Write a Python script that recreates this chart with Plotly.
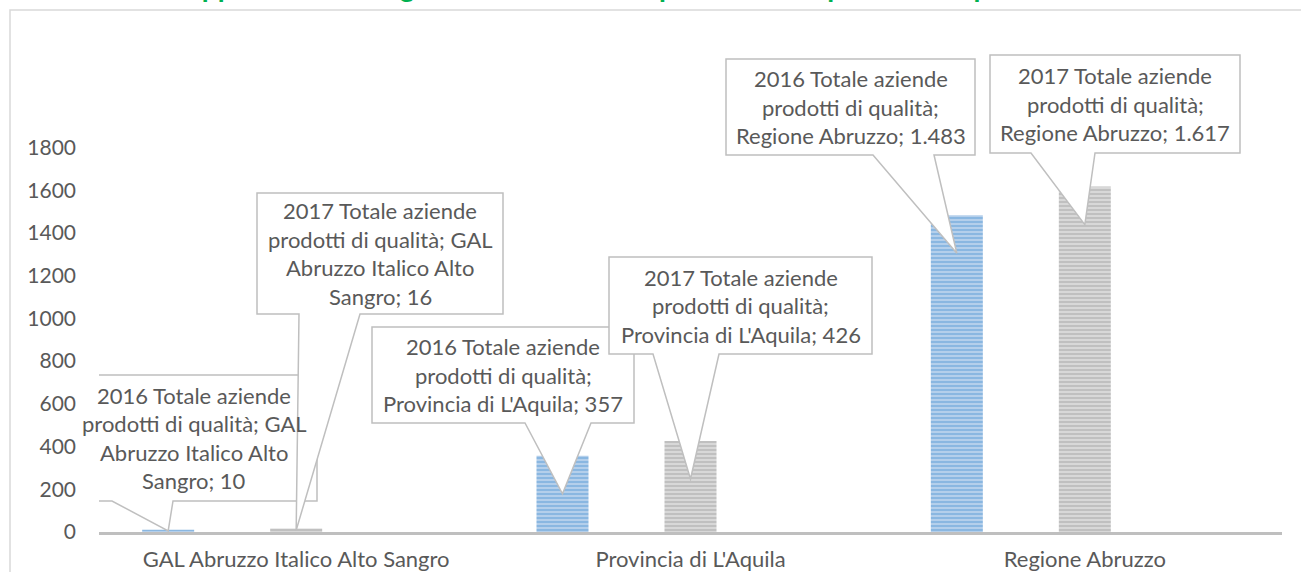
import textwrap
import plotly.graph_objects as go

categories = ["GAL Abruzzo Italico Alto Sangro", "Provincia di L'Aquila", "Regione Abruzzo"]
series_names = ["2016 Totale aziende prodotti di qualità", "2017 Totale aziende prodotti di qualità"]
values_2016 = [10, 357, 1483]
values_2017 = [16, 426, 1617]
y_ticks = [0, 200, 400, 600, 800, 1000, 1200, 1400, 1600, 1800]
title = "Tabella 1 – Rappresentazione grafica delle aziende produttrici di prodotti di qualità anni 2016/17"

W, H = 1302, 573
# plot area in page pixels: x 99..1282, y 20..532
L, R, T, B = 99, W - 1282, 20, H - 532
PLOT_W = W - L - R
PLOT_H = H - T - B
K = 384.5 / 1800  # px per unit
YMAX = PLOT_H / K
CAT_W = PLOT_W / 3

FONT = "Lato"
TXT = "#595959"
LINE = "#BFBFBF"


# helpers: page pixel -> data / paper coordinates
def px_x(px):
    return (px - L) / CAT_W - 0.5


def px_y(py):
    return (H - B - py) / K


def pap_x(px):
    return (px - L) / PLOT_W


def pap_y(py):
    return (H - B - py) / PLOT_H


def fmt(v):
    return f"{v:,}".replace(",", ".")


bar_w = 52 / CAT_W
centers = [-128 / CAT_W, 0.0]
styles = [("#5B9BD5", "#B8D2EC"), ("#A5A5A5", "#DADADA")]

fig = go.Figure()
for i, vals in enumerate([values_2016, values_2017]):
    fg, bg = styles[i]
    fig.add_trace(go.Bar(
        x=list(range(len(categories))), y=vals, name=series_names[i],
        width=bar_w, offset=centers[i] - bar_w / 2,
        marker=dict(color=bg, line=dict(width=0),
                    pattern=dict(shape="-", fgcolor=fg, bgcolor=bg, size=4, solidity=0.55)),
        hoverinfo="skip",
    ))

# callout boxes: (series, category, left, top, right, bottom, base1, base2) in page px
callouts = [
    (0, 0, 71, 375, 317, 501, 112, 173),
    (1, 0, 257, 193, 503, 314, 299, 360),
    (0, 1, 372, 327, 634, 423, 525, 591),
    (1, 1, 609, 257, 872, 354, 653, 719),
    (0, 2, 726, 59, 975, 155, 873, 934),
    (1, 2, 990, 55, 1240, 153, 1031, 1095),
]

# outer chart frame: only its top and left sides fall inside the picture
shapes = [dict(type="path", xref="paper", yref="paper",
               path=f"M{pap_x(10)},{pap_y(572)} L{pap_x(10)},{pap_y(10)} L{pap_x(1301)},{pap_y(10)}",
               line=dict(color="#D9D9D9", width=1.5), layer="below")]
annotations = [dict(text="<b>" + title + "</b>", xref="paper", yref="paper",
                    x=pap_x(28), y=pap_y(5.5), xanchor="left", yanchor="bottom",
                    showarrow=False, font=dict(family=FONT, size=28, color="#00B050"))]

for s, c, l, t, r, b, b1, b2 in callouts:
    v = [values_2016, values_2017][s][c]
    tip_x = c + centers[s]
    tip_y = max(v - 38 / K, v / 2)
    path = (f"M{px_x(l)},{px_y(t)} L{px_x(r)},{px_y(t)} L{px_x(r)},{px_y(b)} "
            f"L{px_x(b2)},{px_y(b)} L{tip_x},{tip_y} L{px_x(b1)},{px_y(b)} "
            f"L{px_x(l)},{px_y(b)} Z")
    shapes.append(dict(type="path", xref="x", yref="y", path=path,
                       fillcolor="white", line=dict(color=LINE, width=1.5), layer="above"))
    label = f"{series_names[s]}; {categories[c]}; {fmt(v)}"
    lines = textwrap.wrap(label, 26)
    cy = (t + b) / 2
    step = 28.5
    for j, ln in enumerate(lines):
        py = cy + (j - (len(lines) - 1) / 2) * step
        annotations.append(dict(text=ln, xref="x", yref="y", x=px_x((l + r) / 2), y=px_y(py),
                                xanchor="center", yanchor="middle", showarrow=False,
                                font=dict(family=FONT, size=22, color=TXT)))

fig.update_layout(
    width=W, height=H,
    margin=dict(l=L, r=R, t=T, b=B, autoexpand=False),
    paper_bgcolor="white", plot_bgcolor="white",
    showlegend=False,
    barmode="overlay",
    font=dict(family=FONT, size=22, color=TXT),
    xaxis=dict(range=[-0.5, 2.5], tickvals=list(range(len(categories))), ticktext=categories,
               showgrid=False, zeroline=False, showline=True, linecolor=LINE, linewidth=2.5,
               ticks="", ticklabelstandoff=6, automargin=False,
               tickfont=dict(family=FONT, size=22, color=TXT)),
    yaxis=dict(range=[0, YMAX], tickvals=y_ticks, showgrid=False, zeroline=False,
               showline=False, ticks="", ticklabelstandoff=22, automargin=False,
               tickfont=dict(family=FONT, size=21, color=TXT)),
    shapes=shapes,
    annotations=annotations,
)

# the figure is exactly page-sized, so drop the default body margin
fig.write_html("out.html", config={"displayModeBar": False},
               post_script="document.body.style.margin='0';")
